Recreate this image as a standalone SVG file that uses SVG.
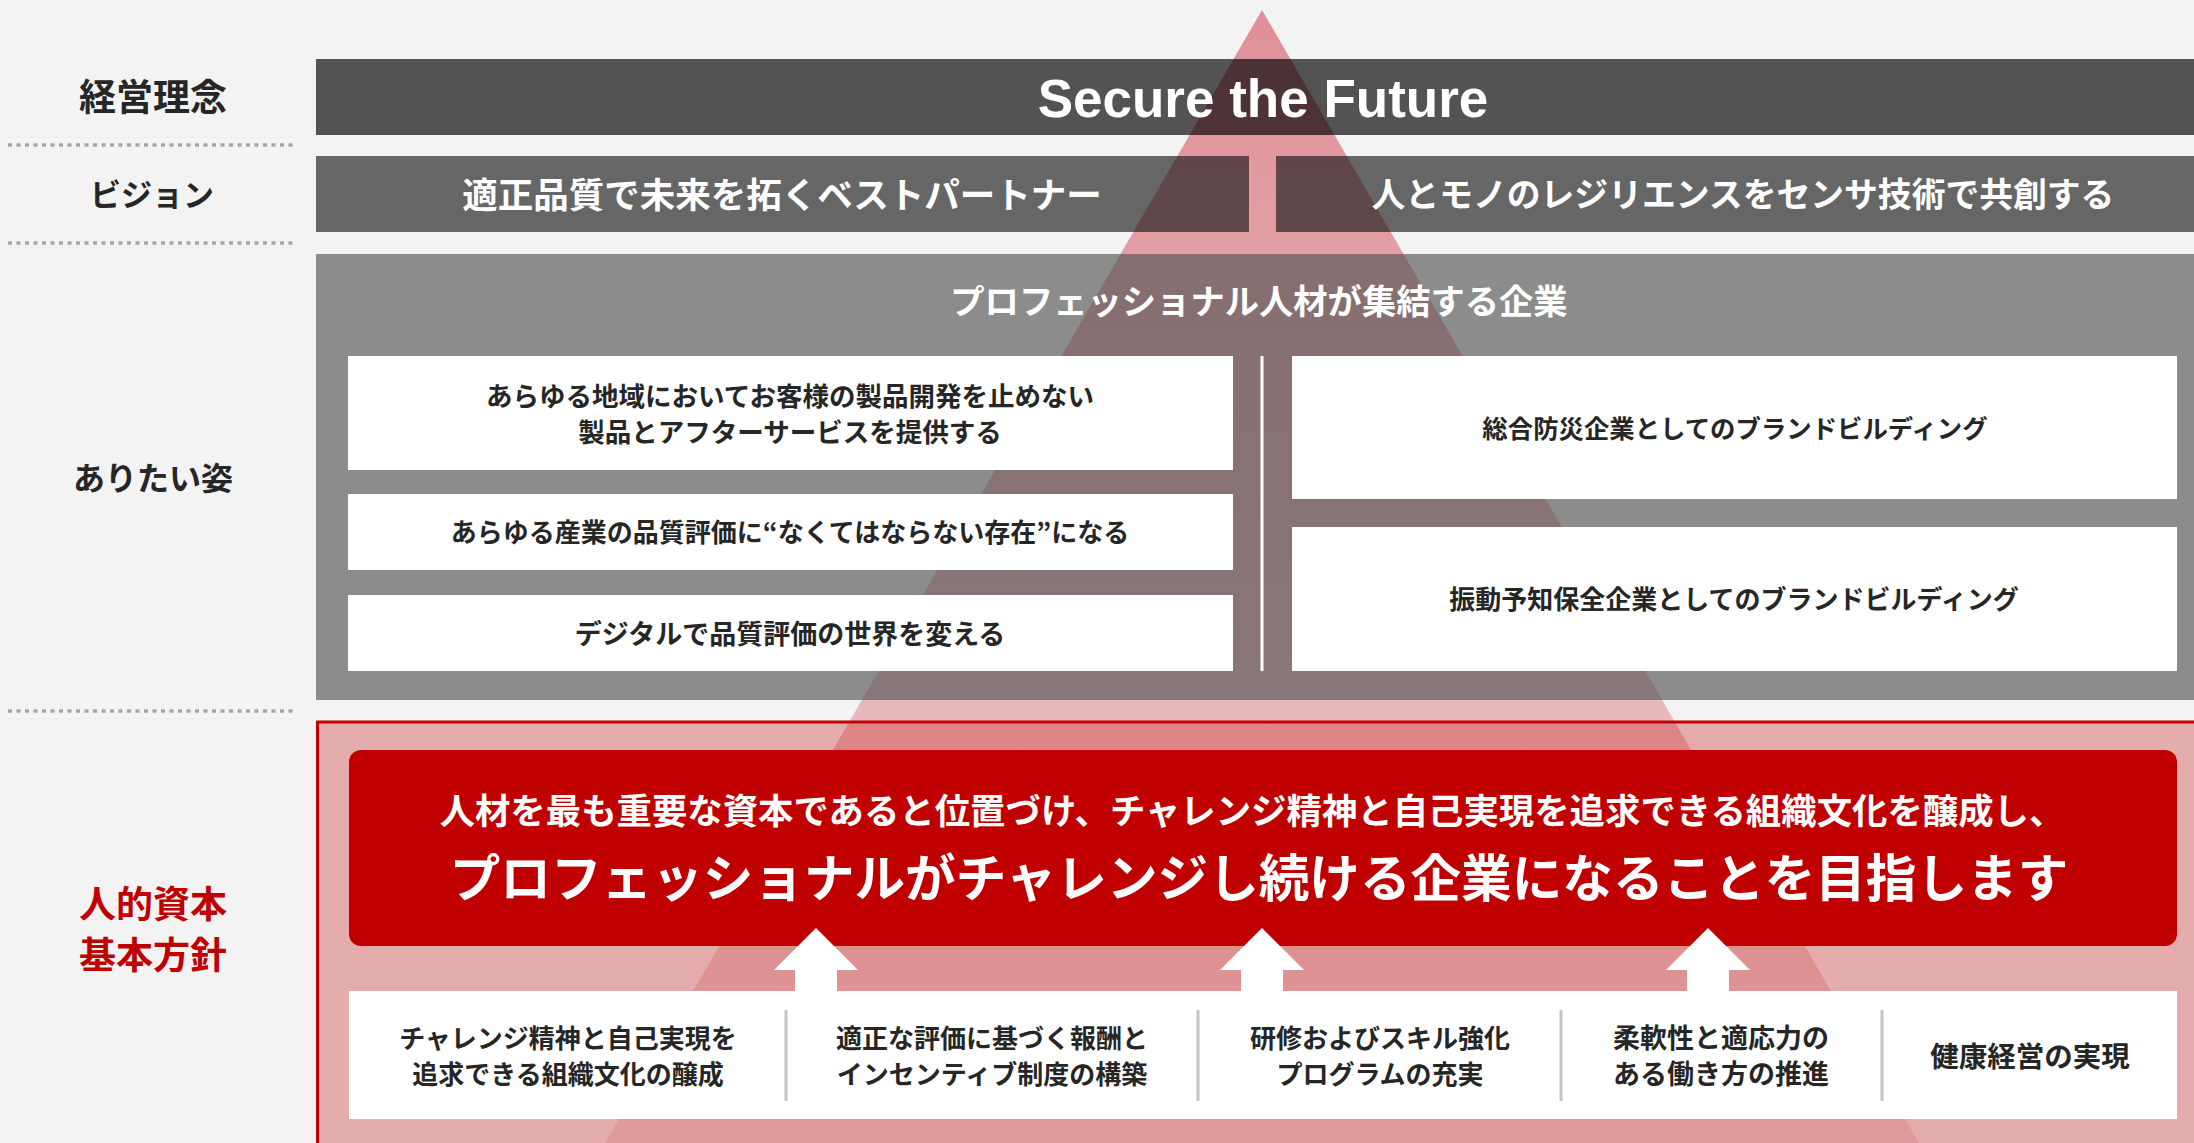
<svg xmlns="http://www.w3.org/2000/svg" width="2194" height="1143" viewBox="0 0 2194 1143">
<defs>
<linearGradient id="triFill" x1="0" y1="10" x2="0" y2="1143" gradientUnits="userSpaceOnUse">
<stop offset="0" stop-color="#df9098"/>
<stop offset="0.62" stop-color="#e8b9bb"/>
<stop offset="1" stop-color="#ecdbdc"/>
</linearGradient>
<path id="upArrow" d="M0,0 L42,42 L21,42 L21,63 L-21,63 L-21,42 L-42,42 Z" fill="#ffffff"/>
</defs>
<style>
.jp{font-family:"Noto Sans CJK JP","Noto Sans CJK SC",sans-serif;font-weight:700;text-anchor:middle;dominant-baseline:central}
.lbl{fill:#262626}
.lblr{font-size:37px;fill:#c00000}
.wt{fill:#ffffff}
.dk{fill:#262626}
.sep{stroke:#a6a6a6;stroke-width:3.5;stroke-dasharray:4 4.5}
.box{fill:#ffffff}
.div{stroke:#c4c4c4;stroke-width:3}
</style>
<rect x="0" y="0" width="2194" height="1143" fill="#f3f3f3"/>
<g id="pyramid">
<polygon points="1262,10 605,1143 1919,1143" fill="url(#triFill)"/>
</g>
<g id="separators">
<line class="sep" x1="8" y1="145" x2="294" y2="145"/>
<line class="sep" x1="8" y1="243" x2="294" y2="243"/>
<line class="sep" x1="8" y1="711" x2="294" y2="711"/>
</g>
<g id="labels">
<text class="jp lbl" x="153" y="95" font-size="37">経営理念</text>
<text class="jp lbl" x="152" y="192" font-size="31">ビジョン</text>
<text class="jp lbl" x="153" y="476" font-size="32">ありたい姿</text>
<text class="jp lblr" x="153" y="902">人的資本</text>
<text class="jp lblr" x="153" y="953">基本方針</text>
</g>
<g id="philosophy">
<rect x="316" y="59" width="1878" height="76" fill="#000000" fill-opacity="0.66"/>
<text x="1263" y="117" font-family="Liberation Sans, Arial, sans-serif" font-weight="700" font-size="53" fill="#ffffff" text-anchor="middle">Secure the Future</text>
</g>
<g id="vision-left">
<rect x="316" y="156" width="933" height="76" fill="#1a1a1a" fill-opacity="0.65"/>
<text class="jp wt" x="782" y="192" font-size="35.5">適正品質で未来を拓くベストパートナー</text>
</g>
<g id="vision-right">
<rect x="1276" y="156" width="918" height="76" fill="#1a1a1a" fill-opacity="0.65"/>
<text class="jp wt" x="1743" y="192" font-size="33.8">人とモノのレジリエンスをセンサ技術で共創する</text>
</g>
<g id="ideal">
<rect x="316" y="254" width="1878" height="446" fill="#555555" fill-opacity="0.65"/>
<text class="jp wt" x="1259" y="299" font-size="34.3">プロフェッショナル人材が集結する企業</text>
<line x1="1262" y1="356" x2="1262" y2="671" stroke="#ffffff" stroke-width="3"/>
</g>
<g id="ideal-a">
<rect class="box" x="348" y="356" width="885" height="114"/>
<text class="jp dk" x="790" y="394" font-size="26.5">あらゆる地域においてお客様の製品開発を止めない</text>
<text class="jp dk" x="790" y="430" font-size="26.5">製品とアフターサービスを提供する</text>
</g>
<g id="ideal-b">
<rect class="box" x="348" y="494" width="885" height="76"/>
<text class="jp dk" x="790" y="530" font-size="26">あらゆる産業の品質評価に“なくてはならない存在”になる</text>
</g>
<g id="ideal-c">
<rect class="box" x="348" y="595" width="885" height="76"/>
<text class="jp dk" x="790" y="632" font-size="27">デジタルで品質評価の世界を変える</text>
</g>
<g id="ideal-d">
<rect class="box" x="1292" y="356" width="885" height="143"/>
<text class="jp dk" x="1735" y="427" font-size="25.4">総合防災企業としてのブランドビルディング</text>
</g>
<g id="ideal-e">
<rect class="box" x="1292" y="527" width="885" height="144"/>
<text class="jp dk" x="1734" y="597" font-size="26">振動予知保全企業としてのブランドビルディング</text>
</g>
<g id="human-capital">
<rect x="317.5" y="722" width="1900" height="450" fill="#c00000" fill-opacity="0.29" stroke="#c00000" stroke-width="3"/>
</g>
<g id="policy">
<rect x="349" y="750" width="1828" height="196" rx="12" ry="12" fill="#c00000"/>
<text class="jp wt" x="1252" y="808" font-size="35.4">人材を最も重要な資本であると位置づけ、チャレンジ精神と自己実現を追求できる組織文化を醸成し、</text>
<text class="jp wt" x="1259" y="875" font-size="50.6">プロフェッショナルがチャレンジし続ける企業になることを目指します</text>
</g>
<g id="connectors">
<use href="#upArrow" x="816" y="928"/>
<use href="#upArrow" x="1262" y="928"/>
<use href="#upArrow" x="1708" y="928"/>
</g>
<g id="measures">
<rect class="box" x="349" y="991" width="1828" height="128"/>
<line class="div" x1="786" y1="1010" x2="786" y2="1101"/>
<line class="div" x1="1198" y1="1010" x2="1198" y2="1101"/>
<line class="div" x1="1561" y1="1010" x2="1561" y2="1101"/>
<line class="div" x1="1882" y1="1010" x2="1882" y2="1101"/>
</g>
<g id="measure-1">
<text class="jp dk" x="568" y="1036" font-size="26">チャレンジ精神と自己実現を</text>
<text class="jp dk" x="568" y="1072" font-size="26">追求できる組織文化の醸成</text>
</g>
<g id="measure-2">
<text class="jp dk" x="992" y="1036" font-size="26">適正な評価に基づく報酬と</text>
<text class="jp dk" x="992" y="1072" font-size="26">インセンティブ制度の構築</text>
</g>
<g id="measure-3">
<text class="jp dk" x="1380" y="1036" font-size="26">研修およびスキル強化</text>
<text class="jp dk" x="1380" y="1072" font-size="26">プログラムの充実</text>
</g>
<g id="measure-4">
<text class="jp dk" x="1721" y="1036" font-size="27">柔軟性と適応力の</text>
<text class="jp dk" x="1721" y="1072" font-size="27">ある働き方の推進</text>
</g>
<g id="measure-5">
<text class="jp dk" x="2030" y="1054" font-size="28.5">健康経営の実現</text>
</g>
</svg>
